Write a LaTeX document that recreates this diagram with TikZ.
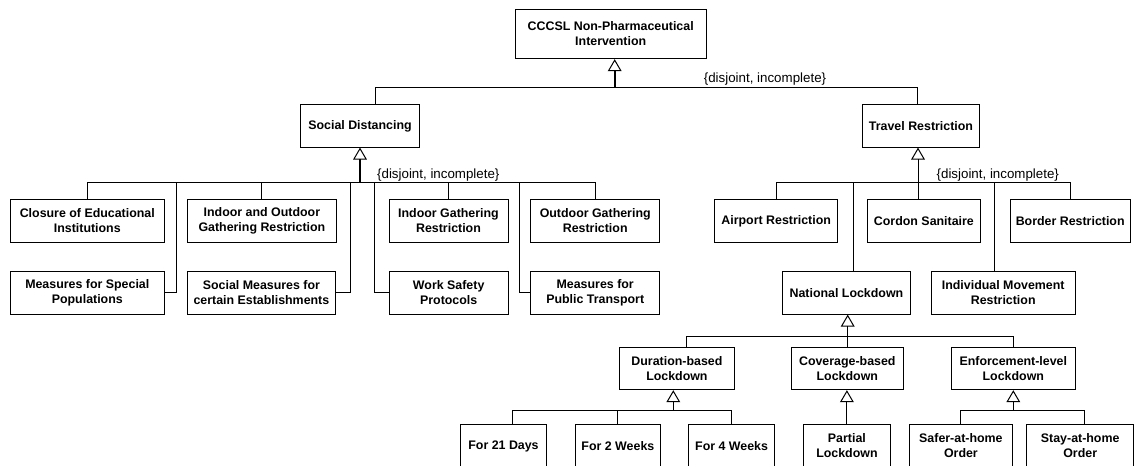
\documentclass[tikz,border=0pt]{standalone}
\usepackage{fontspec}
\setmainfont{Liberation Sans}
\usetikzlibrary{positioning, arrows.meta}

\begin{document}
\begin{tikzpicture}[x=0.75pt, y=-0.75pt,
        box/.style={draw, line width=0.75pt, align=center, inner sep=2pt,
            minimum height=31.8pt, font=\bfseries\fontsize{9.3}{11.25}\selectfont},
        bw/.style={minimum width=#1*0.75pt},
        link/.style={line width=0.75pt},
        gen/.style={line width=0.75pt,
            -{Triangle[open, line width=0.75pt, width=10.3pt, length=9pt]}},
        genthick/.style={gen, line width=1.7pt},
        constraint/.style={font=\fontsize{10}{12}\selectfont}]
    \useasboundingbox (0,0) rectangle (1134,466);
    \clip (0,0) rectangle (1134,466);

        \node[box, bw=191.3, minimum height=37pt] (npi) at (610.7,34) {CCCSL Non-Pharmaceutical\\Intervention};
        \node[box, bw=118.6] (social) at (360,125.9) {Social Distancing};
        \node[box, bw=117.4] (travel) at (921,125.9) {Travel Restriction};

        % social distancing
        \node[box, bw=154] (closure) at (87.3,221) {Closure of Educational\\Institutions};
        \node[box, bw=149.7] (inout) at (261.9,221) {Indoor and Outdoor\\Gathering Restriction};
        \node[box, bw=119] (indoor) at (448.5,221) {Indoor Gathering\\Restriction};
        \node[box, bw=129] (outdoor) at (595.2,221) {Outdoor Gathering\\Restriction};
        \node[box, bw=154] (special) at (87.3,292.9) {Measures for Special\\Populations};
        \node[box, bw=148.7] (establ) at (261.4,292.9) {Social Measures for\\certain Establishments};
        \node[box, bw=119.3] (worksafe) at (448.7,292.9) {Work Safety\\Protocols};
        \node[box, bw=129] (transport) at (595.2,292.9) {Measures for\\Public Transport};

        % travel restriction
        \node[box, bw=123] (airport) at (776.2,221) {Airport Restriction};
        \node[box, bw=112.3] (cordon) at (923.9,221) {Cordon Sanitaire};
        \node[box, bw=119.7] (border) at (1070.2,221) {Border Restriction};
        \node[box, bw=127.3] (national) at (846.4,292.9) {National Lockdown};
        \node[box, bw=144.3] (individual) at (1003.2,292.9) {Individual Movement\\Restriction};

        % lockdown kinds
        \node[box, bw=114.3] (duration) at (676.9,368.5) {Duration-based\\Lockdown};
        \node[box, bw=112] (coverage) at (847.3,368.5) {Coverage-based\\Lockdown};
        \node[box, bw=124] (enforce) at (1013.3,368.5) {Enforcement-level\\Lockdown};

        \node[box, bw=85.6, minimum height=33pt] (days21) at (503.5,446) {For 21 Days};
        \node[box, bw=85.7, minimum height=33pt] (weeks2) at (617.9,446) {For 2 Weeks};
        \node[box, bw=85.7, minimum height=33pt] (weeks4) at (731.6,446) {For 4 Weeks};
        \node[box, bw=87.7, minimum height=33pt] (partial) at (846.9,446) {Partial\\Lockdown};
        \node[box, bw=102.3, minimum height=33pt] (safer) at (960.9,446) {Safer-at-home\\Order};
        \node[box, bw=107, minimum height=33pt] (stay) at (1080.2,446) {Stay-at-home\\Order};

        % top level
        \coordinate (tl) at (375,87.7);
        \coordinate (tt) at (614.7,87.7);
        \coordinate (tr) at (917.3,87.7);
        \draw[link] (tl |- social.north) -- (tl) -- (tr) -- (tr |- travel.north);
        \draw[genthick] (tt) -- (tt |- npi.south);
        \node[constraint] (c1) at (765,79.5) {\{disjoint, incomplete\}};

        % social distancing bus
        \coordinate (st) at (360,182.7);
        \draw[link] (closure.north) |- (st);
        \draw[link] (inout.north) |- (st);
        \draw[link] (indoor.north) |- (st);
        \draw[link] (outdoor.north) |- (st);
        \draw[link] (special.east) -- ++(11.4,0) |- (st);
        \draw[link] (establ.east) -- ++(14,0) |- (st);
        \draw[link] (worksafe.west) -- ++(-14,0) |- (st);
        \draw[link] (transport.west) -- ++(-11,0) |- (st);
        \draw[genthick] (st) -- (social.south);
        \node[constraint] (c2) at (438.3,175) {\{disjoint, incomplete\}};

        % travel restriction bus
        \coordinate (rt) at (918,182.7);
        \draw[link] (airport.north) |- (rt);
        \draw[link] (border.north) |- (rt);
        \draw[link] (rt) -- (rt |- cordon.north);
        \draw[link] ([xshift=5.25pt]national.north) |- (rt);
        \draw[link] ([xshift=-6.3pt]individual.north) |- (rt);
        \draw[gen] (rt) -- (rt |- travel.south);
        \node[constraint] (c3) at (997.8,175) {\{disjoint, incomplete\}};

        % national lockdown bus
        \coordinate (nt) at (847.7,336.3);
        \draw[link] ([xshift=7.1pt]duration.north) |- (nt);
        \draw[link] (enforce.north) |- (nt);
        \draw[link] (nt) -- (nt |- coverage.north);
        \draw[gen] (nt) -- (nt |- national.south);

        % duration
        \coordinate (dt) at (673.3,410.3);
        \draw[link] ([xshift=7.1pt]days21.north) |- (dt);
        \draw[link] (weeks2.north) |- (dt);
        \draw[link] (weeks4.north) |- (dt);
        \draw[gen] (dt) -- (dt |- duration.south);

        \draw[gen] (partial.north) -- (partial.north |- coverage.south);

        % enforcement
        \coordinate (et) at (1013.3,410.3);
        \draw[link] (safer.north) |- (et);
        \draw[link] ([xshift=3pt]stay.north) |- (et);
        \draw[gen] (et) -- (enforce.south);
\end{tikzpicture}
\end{document}
